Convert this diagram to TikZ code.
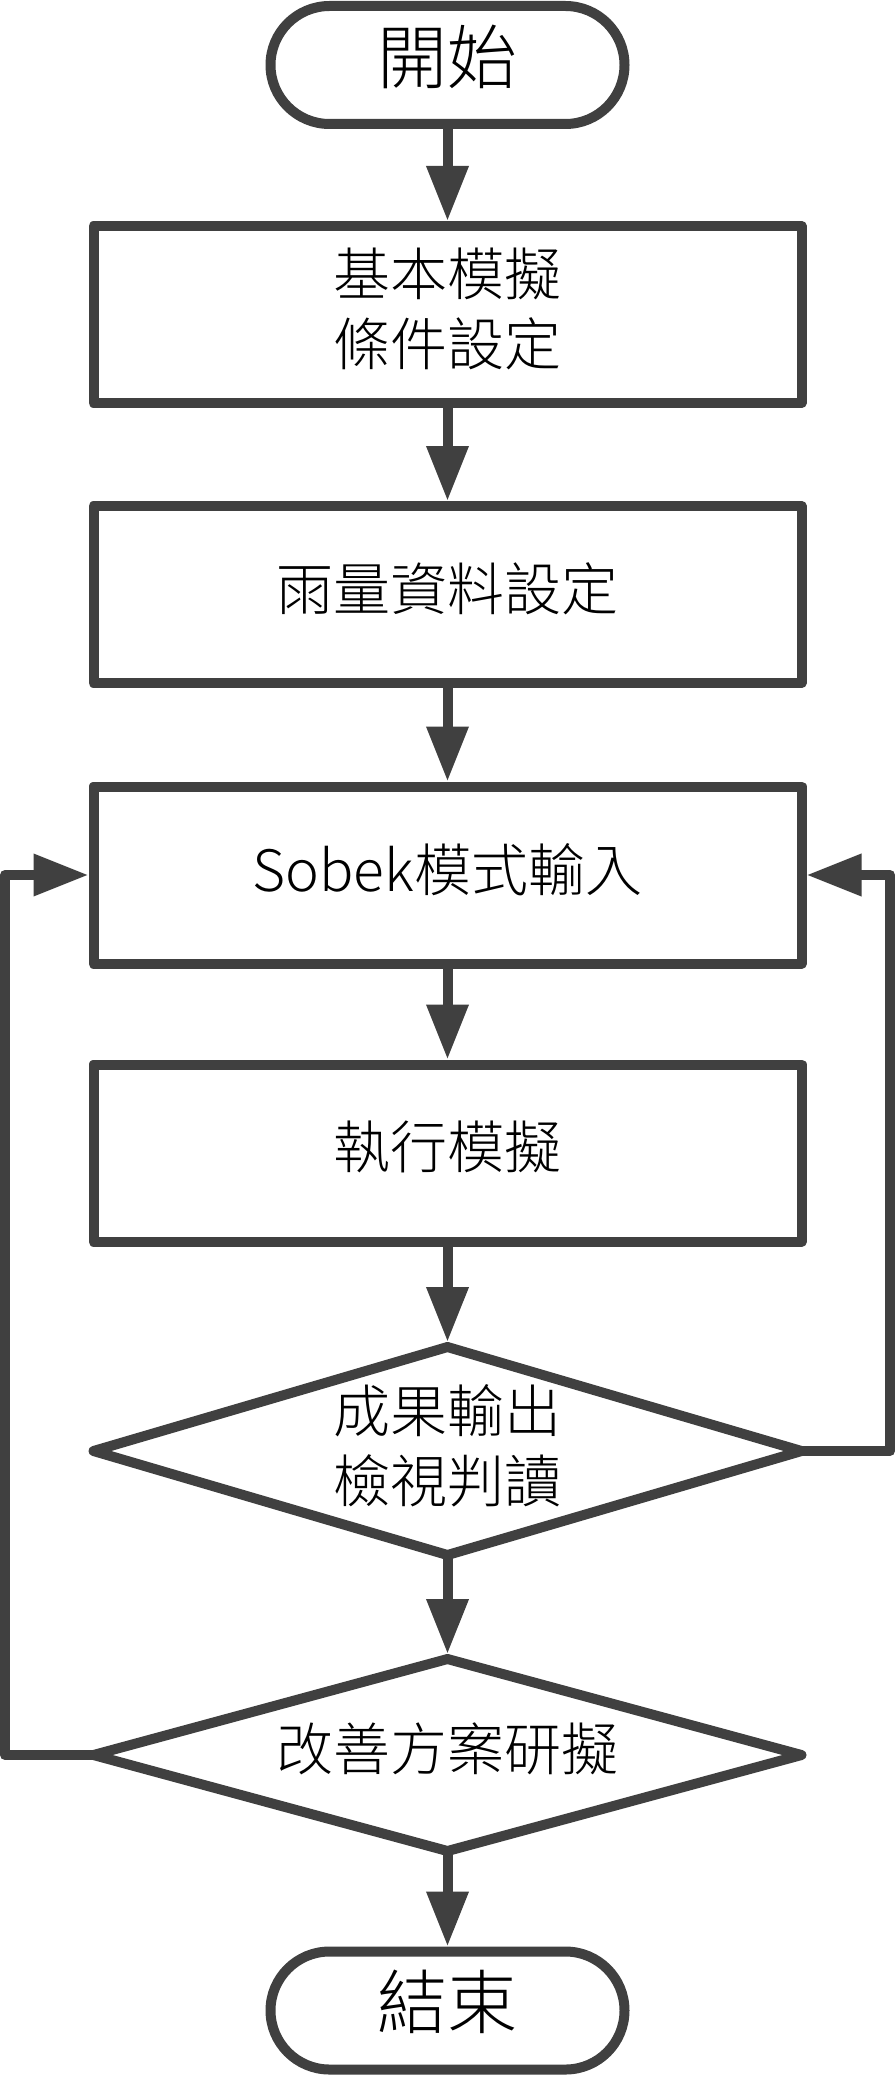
\documentclass[tikz,border=0pt]{standalone}
\usepackage{fontspec}
\IfFontExistsTF{Noto Sans CJK TC Light}
  {\newfontfamily\cjk{Noto Sans CJK TC Light}}
  {\IfFontExistsTF{Noto Sans CJK TC DemiLight}
    {\newfontfamily\cjk{Noto Sans CJK TC DemiLight}}
    {\newfontfamily\cjk{Noto Sans CJK TC}}}
\usetikzlibrary{arrows.meta,shapes.geometric}
\definecolor{lc}{HTML}{404040}
\begin{document}
\begin{tikzpicture}[x=1pt,y=-1pt,
  every node/.style={font=\cjk\fontsize{57}{70}\selectfont, text=black},
  lift/.style={execute at end node={\rule[-#1]{0pt}{0pt}}},
  base/.style={draw=lc, line width=10pt, line join=round, fill=white},
  term/.style={base, rectangle, rounded corners=59pt, minimum width=354pt, minimum height=118pt, inner sep=0pt, font=\cjk\fontsize{70}{80}\selectfont, lift=22pt},
  proc/.style={base, rectangle, minimum width=708pt, minimum height=177pt, inner sep=0pt, align=center, lift=16pt},
  dec/.style={base, diamond, aspect=3.4, inner sep=0pt, outer sep=0pt, align=center, lift=16pt},
  arr/.style={draw=lc, line width=10pt, line join=round, -{Triangle[width=40pt,length=55pt]}},
  arrd/.style={arr, shorten >=5pt},
]
\useasboundingbox[fill=white] (0,0) rectangle (895,2076);
\node[term] (start) at (447.5,65) {開始};
\node[proc] (b1) at (447.5,314.5) {基本模擬\\條件設定};
\node[proc] (b2) at (447.5,594.5) {雨量資料設定};
\node[proc] (b3) at (447.5,875) {Sobek模式輸入};
\node[proc] (b4) at (447.5,1153) {執行模擬};
\node[dec, minimum width=708pt, minimum height=208pt] (d1) at (447.5,1451) {成果輸出\\檢視判讀};
\node[dec, minimum width=708pt, minimum height=192pt] (d2) at (447.5,1755) {改善方案研擬};
\node[term] (end) at (447.5,2010.5) {結束};
\coordinate (L) at (5,1755);
\coordinate (R) at (890,1451);
\draw[arr] (start.south) -- (b1.north);
\draw[arr] (b1.south) -- (b2.north);
\draw[arr] (b2.south) -- (b3.north);
\draw[arr] (b3.south) -- (b4.north);
\draw[arrd] (b4.south) -- (d1.north);
\draw[arrd] (d1.south) -- (d2.north);
\draw[arr] (d2.south) -- (end.north);
\draw[arr] (d2.west) -- (L) |- (b3.west);
\draw[arr] (d1.east) -- (R) |- (b3.east);
\end{tikzpicture}
\end{document}
